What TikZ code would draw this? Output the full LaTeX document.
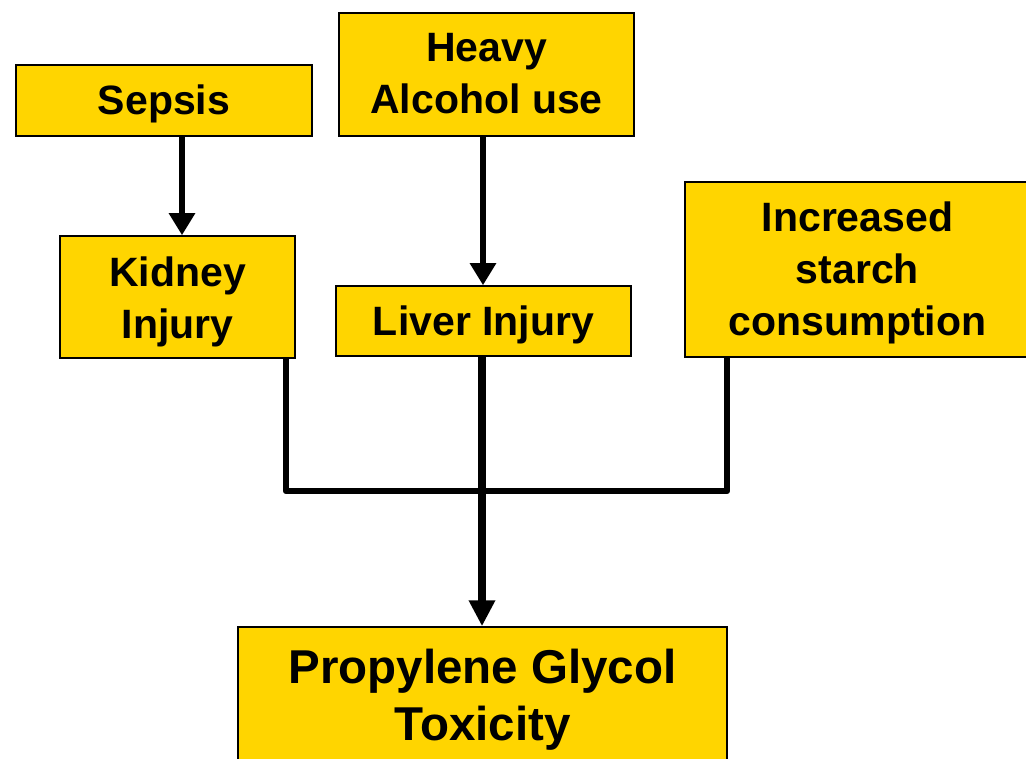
\documentclass[tikz,border=0pt]{standalone}
\usepackage{fontspec}
\setmainfont{Liberation Sans}
\usetikzlibrary{arrows.meta}
\definecolor{gold}{RGB}{255,213,0}
\newcommand{\lowtxt}[2]{\raisebox{-#1}[\height][\depth]{\begin{tabular}{@{}c@{}}#2\end{tabular}}}
\tikzset{
  box/.style={draw=black, line width=1.5pt, fill=gold, rectangle, inner sep=0pt,
    font=\fontsize{41}{52}\selectfont\bfseries},
  conn/.style={draw=black, line width=6.5pt, line join=round},
  arr/.style={conn, -{Triangle[width=25pt,length=22pt]}},
}
\begin{document}
\begin{tikzpicture}[x=1pt,y=-1pt]
\clip (0,0) rectangle (1026,759);
\fill[white] (0,0) rectangle (1026,759);
\node[box, minimum width=296pt, minimum height=71pt] (sepsis) at (164,100.5) {\lowtxt{4pt}{Sepsis}};
\node[box, minimum width=295pt, minimum height=123pt] (alcohol) at (486.5,74.5) {\lowtxt{3pt}{Heavy\\Alcohol use}};
\node[box, minimum width=235pt, minimum height=122pt] (kidney) at (177.5,297) {\lowtxt{5pt}{Kidney\\Injury}};
\node[box, minimum width=295pt, minimum height=70pt] (liver) at (483.5,321) {\lowtxt{4pt}{Liver Injury}};
\node[box, minimum width=345pt, minimum height=175pt] (starch) at (857.5,269.5) {\lowtxt{4pt}{Increased\\starch\\consumption}};
\node[box, minimum width=489pt, minimum height=144pt, font=\fontsize{47.5}{57}\selectfont\bfseries] (prop) at (482.5,699) {\lowtxt{2pt}{Propylene Glycol\\Toxicity}};
\coordinate (xs) at (182,0);
\coordinate (xa) at (483,0);
\coordinate (xk) at (286,0);
\coordinate (xl) at (482,0);
\coordinate (xt) at (727,0);
\coordinate (bar) at (0,491);
\draw[arr] (sepsis.south -| xs) -- (kidney.north -| xs);
\draw[arr] (alcohol.south -| xa) -- (liver.north -| xa);
\draw[conn] (kidney.south -| xk) -- (xk |- bar) -- (xt |- bar) -- (starch.south -| xt);
\draw[arr, line width=8pt, -{Triangle[width=25pt,length=26pt]}] (liver.south -| xl) -- (prop.north -| xl);
\end{tikzpicture}
\end{document}
